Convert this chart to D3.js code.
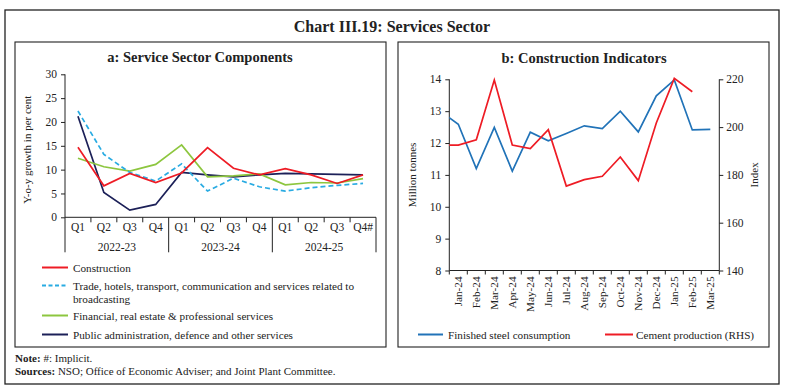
<!DOCTYPE html>
<html>
<head>
<meta charset="utf-8">
<script src="https://cdn.jsdelivr.net/npm/d3@7"></script>
<style>
  body { margin: 0; background: #fff; }
  svg text { font-family: "Liberation Serif", "DejaVu Serif", serif; fill: #222; }
</style>
</head>
<body>
<div id="chart"></div>
<script>
// panel a: quarterly y-o-y growth
const years = ["2022-23", "2023-24", "2024-25"];
const quarters = ["Q1", "Q2", "Q3", "Q4"];
const lastQuarterLabel = "Q4#";
const construction = [14.7, 6.6, 9.2, 7.3, 9.3, 14.6, 10.3, 8.9, 10.2, 8.9, 7.1, 8.9];
const trade = [22.3, 13.2, 9.4, 7.6, 11.2, 5.5, 8.2, 6.4, 5.5, 6.2, 6.7, 7.1];
const financial = [12.4, 10.6, 9.7, 11.1, 15.2, 8.5, 8.7, 9.1, 6.8, 7.3, 7.2, 8.1];
const publicAdmin = [21.2, 5.2, 1.5, 2.7, 9.4, 8.9, 8.5, 8.9, 9.2, 9.1, 9.0, 8.9];
const yTicksA = [0, 5, 10, 15, 20, 25, 30];

// panel b: monthly construction indicators
const months = ["Jan-24", "Feb-24", "Mar-24", "Apr-24", "May-24", "Jun-24", "Jul-24", "Aug-24",
  "Sep-24", "Oct-24", "Nov-24", "Dec-24", "Jan-25", "Feb-25", "Mar-25"];
const steelDec23 = 13.0;
const cementDec23 = 192.5;
const steel = [12.59, 11.2, 12.49, 11.12, 12.34, 12.07, 12.3, 12.54, 12.45, 13.0, 12.35, 13.48, 13.98, 12.41, 12.43];
const cement = [192.5, 194.7, 219.7, 192.5, 191.0, 198.9, 175.3, 178.0, 179.4, 187.5, 177.6, 201.7, 220.4, 214.8, null];
const yTicksL = [8, 9, 10, 11, 12, 13, 14];
const yTicksR = [140, 160, 180, 200, 220];

const W = 785, H = 390;
const svg = d3.select("#chart").append("svg").attr("width", W).attr("height", H);
svg.append("rect").attr("width", W).attr("height", H).attr("fill", "#fff");

// frames
svg.append("rect").attr("x", 5).attr("y", 10).attr("width", 774).attr("height", 374)
  .attr("fill", "none").attr("stroke", "#222").attr("stroke-width", 1.3);
svg.append("rect").attr("x", 15).attr("y", 42).attr("width", 371).attr("height", 305)
  .attr("fill", "none").attr("stroke", "#222").attr("stroke-width", 1.1);
svg.append("rect").attr("x", 398).attr("y", 42).attr("width", 371).attr("height", 305)
  .attr("fill", "none").attr("stroke", "#222").attr("stroke-width", 1.1);

svg.append("text").attr("x", 392).attr("y", 32).attr("text-anchor", "middle")
  .attr("font-size", 16).attr("font-weight", "bold").text("Chart III.19: Services Sector");

// ---------- panel a ----------
const keysA = [];
years.forEach(y => quarters.forEach(q => keysA.push(y + " " + q)));

const xa = d3.scaleBand().domain(keysA).range([65, 376]);
const ya = d3.scaleLinear().domain([0, 30]).range([217.3, 74.3]);

svg.append("text").attr("x", 200).attr("y", 62).attr("text-anchor", "middle")
  .attr("font-size", 14.5).attr("font-weight", "bold").text("a: Service Sector Components");

const ga = svg.append("g");
ga.append("g").attr("transform", "translate(65,0)")
  .call(d3.axisLeft(ya).tickValues(yTicksA).tickSize(4).tickPadding(4))
  .call(g => g.select(".domain").attr("stroke", "#222").attr("d", `M-0,${ya(0)}V${ya(30)}`))
  .call(g => g.selectAll(".tick line").attr("stroke", "#222"))
  .call(g => g.selectAll("text").attr("font-size", 11.5).attr("font-family", "Liberation Serif").attr("fill", "#222"));

ga.append("text").attr("transform", `translate(31,${(ya(0) + ya(30)) / 2 + 4}) rotate(-90)`)
  .attr("text-anchor", "middle").attr("font-size", 11).text("Y-o-y growth in per cent");

// x axis with quarter ticks and year group separators
ga.append("line").attr("x1", 65).attr("x2", 376).attr("y1", ya(0)).attr("y2", ya(0)).attr("stroke", "#222");
keysA.forEach((k, i) => {
  const x0 = xa(k);
  const isYearStart = i % 4 === 0;
  ga.append("line").attr("x1", x0).attr("x2", x0).attr("y1", ya(0))
    .attr("y2", ya(0) + (isYearStart ? 35 : 5)).attr("stroke", "#222");
  const q = k.split(" ")[1];
  ga.append("text").attr("x", x0 + xa.bandwidth() / 2).attr("y", ya(0) + 14)
    .attr("text-anchor", "middle").attr("font-size", 11.5)
    .text(i === keysA.length - 1 ? lastQuarterLabel : q);
});
ga.append("line").attr("x1", xa.range()[1]).attr("x2", xa.range()[1]).attr("y1", ya(0))
  .attr("y2", ya(0) + 35).attr("stroke", "#222");
years.forEach((y, i) => {
  const xs = xa(y + " Q1"), xe = xa(y + " Q4") + xa.bandwidth();
  ga.append("text").attr("x", (xs + xe) / 2).attr("y", ya(0) + 34)
    .attr("text-anchor", "middle").attr("font-size", 11.5).text(y);
});

const seriesA = [
  { name: "Construction", values: construction, color: "#ee1c25", dash: null },
  { name: "Trade, hotels, transport, communication and services related to", name2: "broadcasting", values: trade, color: "#29abe2", dash: "5,3" },
  { name: "Financial, real estate & professional services", values: financial, color: "#8dc63f", dash: null },
  { name: "Public administration, defence and other services", values: publicAdmin, color: "#1c2058", dash: null }
];

const lineA = d3.line()
  .x((d, i) => xa(keysA[i]) + xa.bandwidth() / 2)
  .y(d => ya(d));

// draw in reverse so construction on top
[seriesA[3], seriesA[2], seriesA[1], seriesA[0]].forEach(s => {
  ga.append("path").datum(s.values).attr("d", lineA)
    .attr("fill", "none").attr("stroke", s.color).attr("stroke-width", 1.7)
    .attr("stroke-dasharray", s.dash);
});

// legend a
const legYA = [267.5, 285.5, 315.5, 334.5];
seriesA.forEach((s, i) => {
  const y = legYA[i];
  ga.append("line").attr("x1", 42).attr("x2", 68).attr("y1", y).attr("y2", y)
    .attr("stroke", s.color).attr("stroke-width", 2).attr("stroke-dasharray", s.dash ? "4,2.5" : null);
  ga.append("text").attr("x", 73).attr("y", y + 4).attr("font-size", 11.2).text(s.name);
  if (s.name2) {
    ga.append("text").attr("x", 73).attr("y", y + 17).attr("font-size", 11.2).text(s.name2);
  }
});

// ---------- panel b ----------
const xb = d3.scaleBand().domain(months).range([449.3, 719.3]);
const yl = d3.scaleLinear().domain([8, 14]).range([270.5, 79.3]);
const yr = d3.scaleLinear().domain([140, 220]).range([270.5, 79.3]);

svg.append("text").attr("x", 584).attr("y", 63).attr("text-anchor", "middle")
  .attr("font-size", 14.5).attr("font-weight", "bold").text("b: Construction Indicators");

const gb = svg.append("g");
gb.append("g").attr("transform", "translate(449.3,0)")
  .call(d3.axisLeft(yl).tickValues(yTicksL).tickSize(4).tickPadding(4).tickFormat(d3.format("d")))
  .call(g => g.select(".domain").attr("stroke", "#222").attr("d", `M0,${yl(8)}V${yl(14)}`))
  .call(g => g.selectAll(".tick line").attr("stroke", "#222"))
  .call(g => g.selectAll("text").attr("font-size", 11.5).attr("font-family", "Liberation Serif").attr("fill", "#222"));

gb.append("g").attr("transform", "translate(719.3,0)")
  .call(d3.axisRight(yr).tickValues(yTicksR).tickSize(4).tickPadding(3))
  .call(g => g.select(".domain").attr("stroke", "#222").attr("d", `M0,${yr(140)}V${yr(220)}`))
  .call(g => g.selectAll(".tick line").attr("stroke", "#222"))
  .call(g => g.selectAll("text").attr("font-size", 11.5).attr("font-family", "Liberation Serif").attr("fill", "#222"));

gb.append("text").attr("transform", `translate(416,${(yl(8) + yl(14)) / 2}) rotate(-90)`)
  .attr("text-anchor", "middle").attr("font-size", 11).text("Million tonnes");
gb.append("text").attr("transform", `translate(758,${(yr(140) + yr(220)) / 2}) rotate(-90)`)
  .attr("text-anchor", "middle").attr("font-size", 11).text("Index");

// x axis b
gb.append("line").attr("x1", 449.3).attr("x2", 719.3).attr("y1", yl(8)).attr("y2", yl(8)).attr("stroke", "#222");
months.concat([null]).forEach((m, i) => {
  const x0 = m ? xb(m) : xb.range()[1];
  gb.append("line").attr("x1", x0).attr("x2", x0).attr("y1", yl(8)).attr("y2", yl(8) + 4).attr("stroke", "#222");
});
months.forEach(m => {
  gb.append("text")
    .attr("transform", `translate(${xb(m) + xb.bandwidth() / 2 + 4},${yl(8) + 6}) rotate(-90)`)
    .attr("text-anchor", "end").attr("font-size", 11.2).text(m);
});

// clip so the lead-in from Dec-23 stops at the axis
svg.append("clipPath").attr("id", "clipb").append("rect")
  .attr("x", 449.3).attr("y", 70).attr("width", 270).attr("height", 210);

const cx = i => xb(months[0]) + xb.bandwidth() / 2 + (i - 1) * xb.step();
const steelAll = [steelDec23].concat(steel);
const cementAll = [cementDec23].concat(cement);

const plotB = gb.append("g").attr("clip-path", "url(#clipb)");
plotB.append("path").datum(steelAll)
  .attr("d", d3.line().x((d, i) => cx(i)).y(d => yl(d)))
  .attr("fill", "none").attr("stroke", "#2173b8").attr("stroke-width", 1.7);
plotB.append("path").datum(cementAll)
  .attr("d", d3.line().defined(d => d != null).x((d, i) => cx(i)).y(d => yr(d)))
  .attr("fill", "none").attr("stroke", "#ee1c25").attr("stroke-width", 1.7);

// legend b
gb.append("line").attr("x1", 418).attr("x2", 443).attr("y1", 334.5).attr("y2", 334.5)
  .attr("stroke", "#2173b8").attr("stroke-width", 2);
gb.append("text").attr("x", 448).attr("y", 338.5).attr("font-size", 11.2).text("Finished steel consumption");
gb.append("line").attr("x1", 605).attr("x2", 633).attr("y1", 334.5).attr("y2", 334.5)
  .attr("stroke", "#ee1c25").attr("stroke-width", 2);
gb.append("text").attr("x", 636).attr("y", 338.5).attr("font-size", 11.2).text("Cement production (RHS)");

// notes
const note = svg.append("text").attr("x", 15).attr("y", 362).attr("font-size", 11);
note.append("tspan").attr("font-weight", "bold").text("Note:");
note.append("tspan").text(" #: Implicit.");
const src = svg.append("text").attr("x", 15).attr("y", 374.5).attr("font-size", 11);
src.append("tspan").attr("font-weight", "bold").text("Sources:");
src.append("tspan").text(" NSO; Office of Economic Adviser; and Joint Plant Committee.");
</script>
</body>
</html>
